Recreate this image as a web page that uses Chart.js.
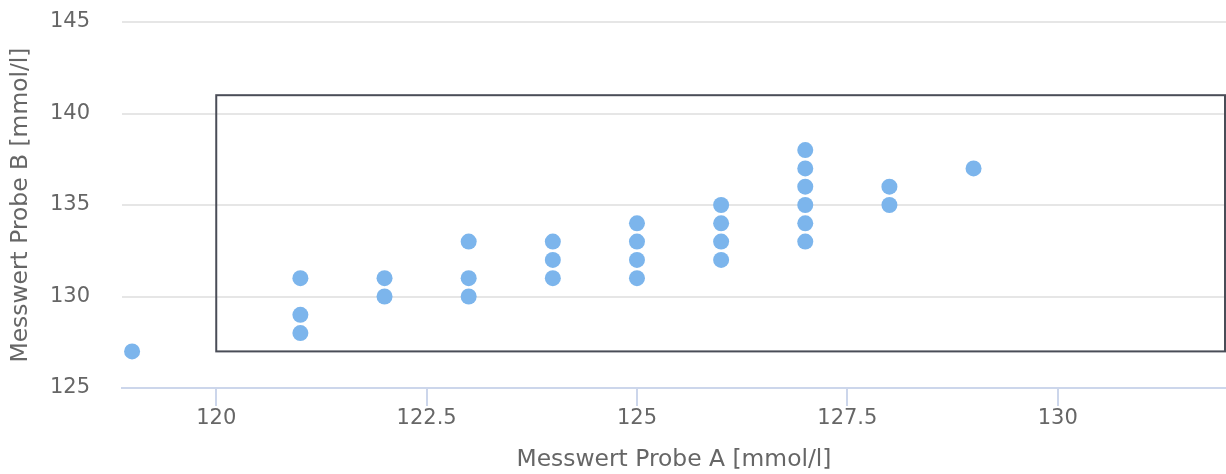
<!DOCTYPE html>
<html>
<head>
<meta charset="utf-8">
<script src="https://cdn.jsdelivr.net/npm/chart.js@4/dist/chart.umd.min.js"></script>
<style>
  body { margin: 0; background: #fff; }
  canvas { display: block; }
</style>
</head>
<body>
<canvas id="chart" width="1226" height="474"></canvas>
<script>
// measurements: x = Probe A, y = Probe B
const probeA = [119, 121, 121, 121, 122, 122, 123, 123, 123, 124, 124, 124,
                125, 125, 125, 125, 126, 126, 126, 126,
                127, 127, 127, 127, 127, 127, 128, 128, 129];
const probeB = [127, 131, 129, 128, 131, 130, 133, 131, 130, 133, 132, 131,
                134, 133, 132, 131, 135, 134, 133, 132,
                138, 137, 136, 135, 134, 133, 136, 135, 137];

// reference box: [xFrom, xTo, yFrom, yTo]
const boxRange = [120, 132, 127, 141];

const xTicks = [120, 122.5, 125, 127.5, 130];
const yTicks = [125, 130, 135, 140, 145];

const points = probeA.map((a, i) => ({ x: a, y: probeB[i] }));

const fontFamily = '"DejaVu Sans", sans-serif';

const boxPlugin = {
    id: 'boxPlugin',
    beforeDatasetsDraw(chart) {
        const { ctx, scales } = chart;
        const x1 = scales.x.getPixelForValue(boxRange[0]);
        const x2 = scales.x.getPixelForValue(boxRange[1]);
        const y1 = scales.y.getPixelForValue(boxRange[3]);
        const y2 = scales.y.getPixelForValue(boxRange[2]);
        ctx.save();
        ctx.strokeStyle = '#4a4d57';
        ctx.lineWidth = 2;
        ctx.strokeRect(x1, y1, x2 - x1 - 1, y2 - y1);
        ctx.restore();
    }
};

new Chart(document.getElementById('chart'), {
    type: 'scatter',
    data: {
        datasets: [{
            data: points,
            backgroundColor: '#7cb5ec',
            borderWidth: 0,
            pointRadius: 8,
            pointHoverRadius: 8
        }]
    },
    options: {
        responsive: false,
        animation: false,
        layout: { autoPadding: false, padding: { top: 22, right: 0, left: 0, bottom: 0 } },
        plugins: {
            legend: { display: false },
            tooltip: { enabled: false }
        },
        scales: {
            x: {
                type: 'linear',
                min: 118.88,
                max: 132,
                afterBuildTicks: s => { s.ticks = xTicks.map(v => ({ value: v })); },
                afterFit: s => { s.height = 86; },
                ticks: {
                    includeBounds: false,
                    padding: 0,
                    color: '#666',
                    font: { family: fontFamily, size: 21 },
                    maxRotation: 0
                },
                grid: {
                    drawOnChartArea: false,
                    drawTicks: true,
                    tickLength: 18,
                    color: '#ccd6eb',
                    lineWidth: 2
                },
                border: { display: true, color: '#ccd6eb', width: 2 },
                title: {
                    display: true,
                    text: 'Messwert Probe A [mmol/l]',
                    color: '#666',
                    font: { family: fontFamily, size: 23.4 },
                    padding: { top: 0, bottom: 0 }
                }
            },
            y: {
                type: 'linear',
                min: 125,
                max: 145,
                afterBuildTicks: s => { s.ticks = yTicks.map(v => ({ value: v })); },
                afterFit: s => {
                    s.width = 122;
                    s.paddingTop = 12;
                    s.paddingBottom = 12;
                },
                ticks: {
                    padding: 32,
                    color: '#666',
                    font: { family: fontFamily, size: 21 }
                },
                grid: {
                    drawTicks: false,
                    color: c => (c.index === 0 ? 'rgba(0,0,0,0)' : '#e6e6e6'),
                    lineWidth: 2
                },
                border: { display: false },
                title: {
                    display: true,
                    text: 'Messwert Probe B [mmol/l]',
                    color: '#666',
                    font: { family: fontFamily, size: 23.4 },
                    padding: { top: 7, bottom: 0 }
                }
            }
        }
    },
    plugins: [boxPlugin]
});
</script>
</body>
</html>
